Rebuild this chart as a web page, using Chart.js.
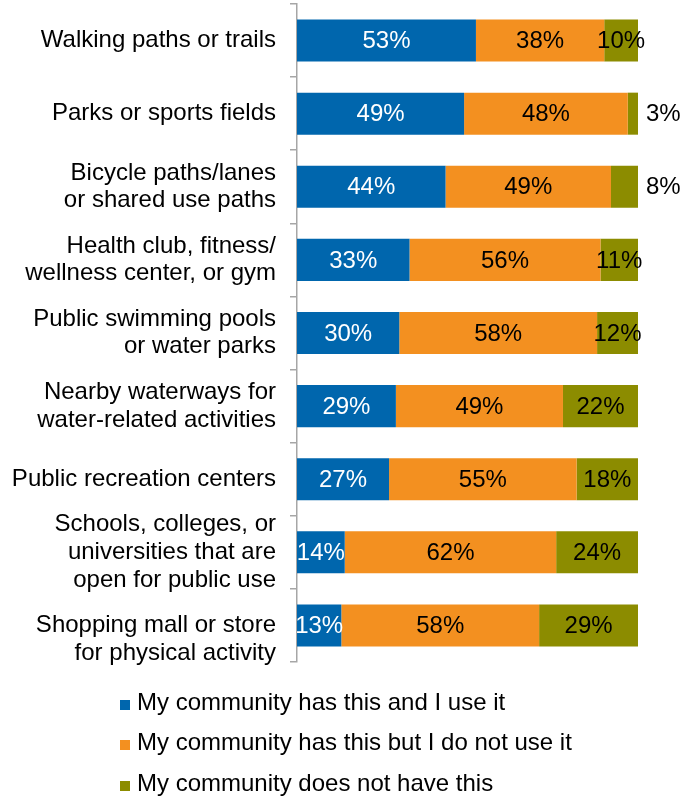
<!DOCTYPE html>
<html>
<head>
<meta charset="utf-8">
<script src="https://cdn.jsdelivr.net/npm/chart.js@4"></script>
<style>
  html, body { margin: 0; padding: 0; background: #fff; }
  #wrap { width: 696px; height: 799px; position: relative; }
</style>
</head>
<body>
<div id="wrap"><canvas id="chart"></canvas></div>
<script>
const categories = [
  'Walking paths or trails',
  'Parks or sports fields',
  ['Bicycle paths/lanes', 'or shared use paths'],
  ['Health club, fitness/', 'wellness center, or gym'],
  ['Public swimming pools', 'or water parks'],
  ['Nearby waterways for', 'water-related activities'],
  'Public recreation centers',
  ['Schools, colleges, or', 'universities that are', 'open for public use'],
  ['Shopping mall or store', 'for physical activity']
];
const useIt = [53, 49, 44, 33, 30, 29, 27, 14, 13];
const hasNoUse = [38, 48, 49, 56, 58, 49, 55, 62, 58];
const doesNotHave = [10, 3, 8, 11, 12, 22, 18, 24, 29];
const seriesNames = [
  'My community has this and I use it',
  'My community has this but I do not use it',
  'My community does not have this'
];
const seriesColors = ['#0066AD', '#F39020', '#8C8C00'];
const labelColors = ['#fff', '#000', '#000'];

const FONT = '"Liberation Sans", Arial, sans-serif';
const series = [useIt, hasNoUse, doesNotHave];

// Excel 100% stacked: each row fills the full width
const totals = categories.map((_, i) => series.reduce((s, arr) => s + arr[i], 0));

// 数据标签
const valueLabels = {
  id: 'valueLabels',
  afterDatasetsDraw(chart) {
    const { ctx } = chart;
    ctx.save();
    ctx.font = '24px ' + FONT;
    ctx.textBaseline = 'middle';
    chart.data.datasets.forEach((ds, di) => {
      const meta = chart.getDatasetMeta(di);
      meta.data.forEach((bar, i) => {
        const v = series[di][i];
        const { x, base, y } = bar.getProps(['x', 'base', 'y'], true);
        ctx.fillStyle = labelColors[di];
        if (v < 10) {
          ctx.textAlign = 'left';
          ctx.fillText(v + '%', x + 8, y + 1);
        } else {
          ctx.textAlign = 'center';
          ctx.fillText(v + '%', (x + base) / 2, y + 1);
        }
      });
    });
    ctx.restore();
  }
};

// 竖排图例
const listLegend = {
  id: 'listLegend',
  afterDraw(chart) {
    const { ctx } = chart;
    const rows = [703, 743, 784];
    ctx.save();
    ctx.font = '24px ' + FONT;
    ctx.textBaseline = 'middle';
    ctx.textAlign = 'left';
    chart.data.datasets.forEach((ds, i) => {
      ctx.fillStyle = ds.backgroundColor;
      ctx.fillRect(120, rows[i] - 3, 10, 10);
      ctx.fillStyle = '#000';
      ctx.fillText(ds.label, 137, rows[i]);
    });
    ctx.restore();
  }
};

new Chart(document.getElementById('chart'), {
  type: 'bar',
  data: {
    labels: categories,
    datasets: series.map((arr, di) => ({
      label: seriesNames[di],
      data: arr.map((v, i) => v / totals[i] * 100),
      backgroundColor: seriesColors[di],
      borderWidth: 0,
      barPercentage: 1,
      categoryPercentage: 0.575
    }))
  },
  options: {
    indexAxis: 'y',
    responsive: true,
    maintainAspectRatio: false,
    animation: false,
    layout: { padding: { top: 4, right: 58, bottom: 137, left: 0 } },
    plugins: { legend: { display: false }, tooltip: { enabled: false } },
    scales: {
      x: { stacked: true, min: 0, max: 100, display: false },
      y: {
        stacked: true,
        afterFit(scale) {
          scale.width = 297;
          scale.paddingTop = 0;
          scale.paddingBottom = 0;
        },
        border: { display: true, color: '#A6A6A6', width: 1.5 },
        grid: {
          display: true,
          drawOnChartArea: false,
          drawTicks: true,
          tickLength: 7,
          color: '#A6A6A6',
          lineWidth: 1.5,
          offset: true
        },
        ticks: {
          autoSkip: false,
          color: '#000',
          padding: 14,
          font: { family: FONT, size: 24, lineHeight: 1.15 },
          // Excel pushed the last label down below the bar centre
          callback(value, i) {
            const lbl = categories[i];
            return i === categories.length - 1 ? [''].concat(lbl) : lbl;
          }
        }
      }
    }
  },
  plugins: [valueLabels, listLegend]
});
</script>
</body>
</html>
